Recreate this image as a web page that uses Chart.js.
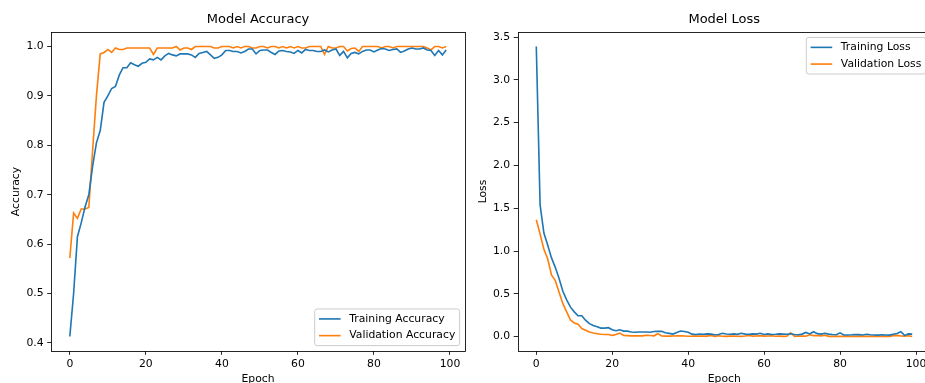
<!DOCTYPE html>
<html>
<head>
<meta charset="utf-8">
<script src="https://cdn.jsdelivr.net/npm/chart.js@4.4.1/dist/chart.umd.min.js"></script>
<style>
  html, body { margin: 0; padding: 0; background: #fff; overflow: hidden; }
  #wrap { position: relative; width: 925px; height: 383px; overflow: hidden; background: #fff; }
  canvas { position: absolute; top: 0; }
  #accChart { left: 0; }
  #lossChart { left: 470px; }
</style>
</head>
<body>
<div id="wrap">
  <canvas id="accChart" width="470" height="400"></canvas>
  <canvas id="lossChart" width="470" height="400"></canvas>
</div>
<script>
// epochs 0..99
const epochs = Array.from({ length: 100 }, (_, i) => i);
const epochTicks = [0, 20, 40, 60, 80, 100];
const accTicks = [0.4, 0.5, 0.6, 0.7, 0.8, 0.9, 1.0];
const lossTicks = [0.0, 0.5, 1.0, 1.5, 2.0, 2.5, 3.0, 3.5];

const trainAcc = [
  0.413, 0.500, 0.615, 0.643, 0.675, 0.700, 0.758, 0.805, 0.830, 0.887,
  0.900, 0.915, 0.919, 0.942, 0.957, 0.957, 0.967, 0.963, 0.960, 0.966,
  0.968, 0.975, 0.973, 0.978, 0.973, 0.981, 0.986, 0.983, 0.981, 0.985,
  0.985, 0.985, 0.983, 0.978, 0.986, 0.988, 0.990, 0.983, 0.976, 0.978,
  0.983, 0.992, 0.992, 0.990, 0.990, 0.987, 0.990, 0.995, 0.995, 0.985,
  0.992, 0.993, 0.993, 0.988, 0.984, 0.991, 0.992, 0.990, 0.989, 0.986,
  0.992, 0.987, 0.994, 0.992, 0.992, 0.990, 0.990, 0.993, 0.989, 0.993,
  0.995, 0.982, 0.990, 0.977, 0.986, 0.988, 0.985, 0.990, 0.993, 0.993,
  0.989, 0.993, 0.996, 0.995, 0.992, 0.994, 0.995, 0.988, 0.991, 0.995,
  0.997, 0.995, 0.995, 0.997, 0.993, 0.992, 0.982, 0.992, 0.983, 0.993
];
const valAcc = [
  0.572, 0.663, 0.652, 0.671, 0.671, 0.674, 0.790, 0.900, 0.985, 0.988,
  0.994, 0.988, 0.997, 0.994, 0.994, 0.997, 0.997, 0.997, 0.997, 0.997,
  0.997, 0.997, 0.984, 0.997, 0.997, 0.997, 0.997, 0.997, 1.000, 0.993,
  0.997, 0.997, 0.994, 1.000, 1.000, 1.000, 1.000, 1.000, 0.997, 0.997,
  1.000, 1.000, 1.000, 0.997, 1.000, 0.997, 1.000, 1.000, 0.997, 0.997,
  1.000, 1.000, 0.997, 1.000, 1.000, 0.997, 1.000, 0.997, 1.000, 0.997,
  1.000, 0.997, 0.997, 1.000, 1.000, 1.000, 1.000, 0.984, 1.000, 0.997,
  0.997, 1.000, 1.000, 0.991, 0.996, 0.997, 0.990, 1.000, 1.000, 1.000,
  1.000, 1.000, 0.997, 1.000, 1.000, 0.997, 1.000, 1.000, 1.000, 1.000,
  1.000, 1.000, 1.000, 1.000, 0.997, 0.993, 1.000, 1.000, 0.997, 1.000
];
const trainLoss = [
  3.390, 1.540, 1.210, 1.070, 0.920, 0.810, 0.680, 0.530, 0.430, 0.345,
  0.290, 0.245, 0.245, 0.190, 0.152, 0.130, 0.115, 0.100, 0.100, 0.105,
  0.080, 0.070, 0.080, 0.065, 0.065, 0.055, 0.052, 0.055, 0.055, 0.055,
  0.052, 0.060, 0.062, 0.062, 0.045, 0.038, 0.030, 0.050, 0.066, 0.060,
  0.052, 0.030, 0.025, 0.030, 0.028, 0.032, 0.030, 0.022, 0.026, 0.040,
  0.032, 0.028, 0.032, 0.027, 0.040, 0.030, 0.028, 0.032, 0.030, 0.040,
  0.026, 0.033, 0.026, 0.028, 0.032, 0.030, 0.028, 0.034, 0.025, 0.022,
  0.030, 0.050, 0.032, 0.058, 0.035, 0.030, 0.040, 0.030, 0.025, 0.022,
  0.045, 0.020, 0.020, 0.022, 0.025, 0.024, 0.020, 0.028, 0.022, 0.020,
  0.018, 0.022, 0.020, 0.018, 0.028, 0.038, 0.058, 0.015, 0.032, 0.030
];
const valLoss = [
  1.365, 1.200, 1.020, 0.910, 0.720, 0.655, 0.520, 0.385, 0.290, 0.195,
  0.160, 0.145, 0.095, 0.075, 0.055, 0.043, 0.035, 0.028, 0.025, 0.025,
  0.016, 0.025, 0.042, 0.014, 0.012, 0.010, 0.010, 0.010, 0.010, 0.016,
  0.014, 0.010, 0.035, 0.008, 0.006, 0.006, 0.008, 0.010, 0.010, 0.008,
  0.005, 0.006, 0.008, 0.006, 0.006, 0.007, 0.014, 0.004, 0.010, 0.005,
  0.004, 0.006, 0.008, 0.005, 0.004, 0.008, 0.014, 0.006, 0.008, 0.012,
  0.006, 0.008, 0.010, 0.005, 0.006, 0.004, 0.006, 0.046, 0.004, 0.008,
  0.006, 0.006, 0.022, 0.012, 0.014, 0.010, 0.018, 0.004, 0.004, 0.003,
  0.004, 0.003, 0.005, 0.004, 0.003, 0.006, 0.004, 0.005, 0.004, 0.003,
  0.004, 0.003, 0.005, 0.004, 0.012, 0.015, 0.008, 0.006, 0.010, 0.002
];

const BLUE = '#1f77b4';
const ORANGE = '#ff7f0e';
const FONT = 'DejaVu Sans';
const FS = 10.8;   // tick / label / legend size
const TFS = 13;    // title size
const LW = 1.62;   // line width

Chart.defaults.font.family = FONT;
Chart.defaults.color = '#000';

// matplotlib-style 5% margins
function dataLimits(arrays) {
  const all = arrays.flat();
  const lo = Math.min(...all), hi = Math.max(...all);
  const m = (hi - lo) * 0.05;
  return [lo - m, hi + m];
}

// axes frame on all four sides
const framePlugin = {
  id: 'frame',
  afterDraw(chart) {
    const { ctx, chartArea: a } = chart;
    ctx.save();
    ctx.strokeStyle = '#000';
    ctx.lineWidth = 0.85;
    ctx.strokeRect(Math.round(a.left) + 0.5, Math.round(a.top) + 0.5,
      Math.round(a.right - a.left), Math.round(a.bottom - a.top));
    ctx.restore();
  }
};

// legend drawn inside the axes like matplotlib
const boxLegend = {
  id: 'boxLegend',
  afterDraw(chart, args, opts) {
    const { ctx, chartArea: a } = chart;
    const sets = chart.data.datasets;
    const bp = 0.4 * FS, ls = 0.5 * FS, hl = 2 * FS, htp = 0.8 * FS, bap = 0.5 * FS;
    const rowH = 11.3;
    ctx.save();
    ctx.font = FS + 'px "' + FONT + '"';
    const textW = Math.max(...sets.map(d => ctx.measureText(d.label).width));
    const w = 2 * bp + hl + htp + textW;
    const h = 2 * bp + sets.length * rowH + (sets.length - 1) * ls;
    const x = a.right - bap - w;
    const y = opts.corner === 'lower right' ? a.bottom - bap - h : a.top + bap;
    ctx.beginPath();
    ctx.roundRect(x, y, w, h, 2.5);
    ctx.fillStyle = 'rgba(255,255,255,0.8)';
    ctx.fill();
    ctx.strokeStyle = '#cccccc';
    ctx.lineWidth = 1;
    ctx.stroke();
    sets.forEach((d, i) => {
      const cy = y + bp + i * (rowH + ls) + rowH / 2;
      ctx.beginPath();
      ctx.moveTo(x + bp, cy);
      ctx.lineTo(x + bp + hl, cy);
      ctx.strokeStyle = d.borderColor;
      ctx.lineWidth = LW;
      ctx.stroke();
      ctx.fillStyle = '#000';
      ctx.textBaseline = 'middle';
      ctx.textAlign = 'left';
      ctx.fillText(d.label, x + bp + hl + htp, cy);
    });
    ctx.restore();
  }
};

function makeChart(canvasId, cfg) {
  const [yMin, yMax] = dataLimits(cfg.series.map(s => s.data));
  const datasets = cfg.series.map(s => ({
    label: s.label,
    data: s.data,
    borderColor: s.color,
    backgroundColor: s.color,
    borderWidth: LW,
    pointRadius: 0,
    tension: 0,
    fill: false
  }));
  const tickGrid = {
    display: true,
    drawOnChartArea: false,
    drawTicks: true,
    tickLength: 3.8,
    tickColor: '#000',
    lineWidth: 0.85
  };
  return new Chart(document.getElementById(canvasId), {
    type: 'line',
    data: { labels: epochs, datasets: datasets },
    options: {
      responsive: false,
      animation: false,
      events: [],
      layout: { padding: { left: 0, right: cfg.padRight, top: 0, bottom: 0 } },
      plugins: {
        legend: { display: false },
        tooltip: { enabled: false },
        title: {
          display: true,
          text: cfg.title,
          fullSize: false,
          color: '#000',
          font: { family: FONT, size: TFS, weight: 'normal', lineHeight: 1.2 },
          padding: { top: 12.2, bottom: 4.2 }
        },
        boxLegend: { corner: cfg.legendCorner }
      },
      scales: {
        x: {
          type: 'linear',
          min: -4.95,
          max: 103.95,
          border: { display: false },
          grid: tickGrid,
          ticks: {
            padding: 3.4,
            color: '#000',
            font: { family: FONT, size: FS },
            maxRotation: 0,
            callback: v => String(v)
          },
          title: {
            display: true,
            text: 'Epoch',
            color: '#000',
            font: { family: FONT, size: FS, lineHeight: 1.2 },
            padding: { top: 0, bottom: 14 }
          },
          afterBuildTicks: scale => { scale.ticks = epochTicks.map(v => ({ value: v })); },
          afterFit: scale => { scale.height = 49; }
        },
        y: {
          type: 'linear',
          min: yMin,
          max: yMax,
          border: { display: false },
          grid: tickGrid,
          ticks: {
            padding: 3.6,
            color: '#000',
            font: { family: FONT, size: FS },
            callback: v => Number(v).toFixed(1)
          },
          title: {
            display: true,
            text: cfg.yLabel,
            color: '#000',
            font: { family: FONT, size: FS, lineHeight: 1.2 },
            padding: { top: cfg.yTitlePad, bottom: 0 }
          },
          afterBuildTicks: scale => { scale.ticks = cfg.yTicks.map(v => ({ value: v })); },
          afterFit: scale => { scale.width = cfg.yWidth; }
        }
      }
    },
    plugins: [framePlugin, boxLegend]
  });
}

makeChart('accChart', {
  title: 'Model Accuracy',
  yLabel: 'Accuracy',
  yTicks: accTicks,
  yWidth: 51,
  padRight: 5,
  yTitlePad: 9.5,
  legendCorner: 'lower right',
  series: [
    { label: 'Training Accuracy', data: trainAcc, color: BLUE },
    { label: 'Validation Accuracy', data: valAcc, color: ORANGE }
  ]
});

makeChart('lossChart', {
  title: 'Model Loss',
  yLabel: 'Loss',
  yTicks: lossTicks,
  yWidth: 47.5,
  padRight: 9,
  yTitlePad: 6.3,
  legendCorner: 'upper right',
  series: [
    { label: 'Training Loss', data: trainLoss, color: BLUE },
    { label: 'Validation Loss', data: valLoss, color: ORANGE }
  ]
});
</script>
</body>
</html>
